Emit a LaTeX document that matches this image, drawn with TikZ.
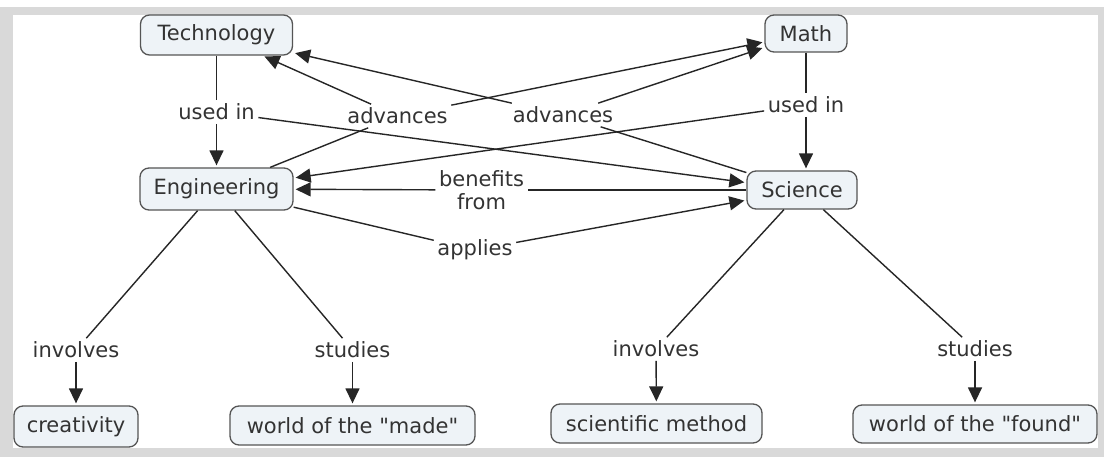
\documentclass[tikz,border=0pt]{standalone}
\usepackage{fontspec}
\newfontfamily\mapfont{DejaVu Sans}
\usetikzlibrary{arrows.meta}
\definecolor{framegray}{HTML}{D9D9D9}
\definecolor{nodefill}{HTML}{EEF3F7}
\definecolor{nodeborder}{HTML}{555555}
\definecolor{ink}{HTML}{333333}
\definecolor{wire}{HTML}{262626}
\begin{document}
\begin{tikzpicture}[x=1pt,y=-1pt,
  font=\mapfont\fontsize{21}{23}\selectfont,
  concept/.style={draw=nodeborder, line width=1.3pt, fill=nodefill,
    rounded corners=9pt, inner sep=0pt, text=ink},
  linklabel/.style={inner sep=3.5pt, text=ink, align=center},
  plain/.style={draw=wire, line width=1.4pt},
  arr/.style={draw=wire, line width=1.4pt, shorten >=2pt,
    -{Triangle[length=15pt,width=14pt]}}
]
% page and frame
\useasboundingbox (0,0) rectangle (1104,457);
\fill[white] (0,0) rectangle (1104,457);
\fill[framegray] (0,7) rectangle (1104,457);
\fill[white] (13,15) rectangle (1098,448);

% concepts
\node[concept, minimum width=152pt, minimum height=40pt] (tech) at (216.5,35) {Technology};
\node[concept, minimum width=82pt, minimum height=37pt] (math) at (806,33.5) {Math};
\node[concept, minimum width=153pt, minimum height=42pt] (eng) at (216.5,189) {Engineering};
\node[concept, minimum width=110pt, minimum height=38pt] (sci) at (802,190) {Science};
\node[concept, minimum width=124pt, minimum height=41pt] (crea) at (76,426.5) {creativity};
\node[concept, minimum width=245pt, minimum height=39pt] (made) at (352.5,425.5) {world of the "made"};
\node[concept, minimum width=211pt, minimum height=39pt] (meth) at (656.5,423.5) {scientific method};
\node[concept, minimum width=244pt, minimum height=38pt] (found) at (975,424) {world of the "found"};

% linking phrases
\node[linklabel] (ul1) at (216.5,112) {used in};
\node[linklabel] (ul2) at (806,105) {used in};
\node[linklabel] (adv1) at (397.5,116) {advances};
\node[linklabel] (adv2) at (563,115) {advances};
\node[linklabel] (ben) at (481.5,190) {benefits\\from};
\node[linklabel] (app) at (475,250) {applies};
\node[linklabel] (inv1) at (76,350) {involves};
\node[linklabel] (stu1) at (352.5,350) {studies};
\node[linklabel] (inv2) at (656,349) {involves};
\node[linklabel] (stu2) at (975,349) {studies};

% Technology used in Engineering and Science
\draw[plain] (tech) -- (ul1);
\draw[arr] (ul1) -- (eng);
\draw[arr] (ul1) -- (sci);

% Math used in Science and Engineering
\draw[plain] (math) -- (ul2);
\draw[arr] (ul2.south) -- (ul2.south |- sci.north);
\draw[arr] (ul2) -- (eng);

% Engineering advances Technology and Math
\draw[plain] (eng) -- (adv1);
\draw[arr] (adv1) -- (tech);
\draw[arr] (adv1) -- (math);

% Science advances Technology and Math
\draw[plain] (sci) -- (adv2);
\draw[arr] (adv2) -- (tech);
\draw[arr] (adv2) -- (math);

% Engineering benefits from Science, applies Science
\draw[plain] (sci) -- (ben);
\draw[arr] (ben) -- (eng);
\draw[plain] (eng) -- (app);
\draw[arr] (app) -- (sci);

% lower branches
\draw[plain] (eng) -- (inv1);
\draw[arr] (inv1) -- (crea);
\draw[plain] (eng) -- (stu1);
\draw[arr] (stu1) -- (made);
\draw[plain] (sci) -- (inv2);
\draw[arr] (inv2) -- (meth);
\draw[plain] (sci) -- (stu2);
\draw[arr] (stu2) -- (found);
\end{tikzpicture}
\end{document}
